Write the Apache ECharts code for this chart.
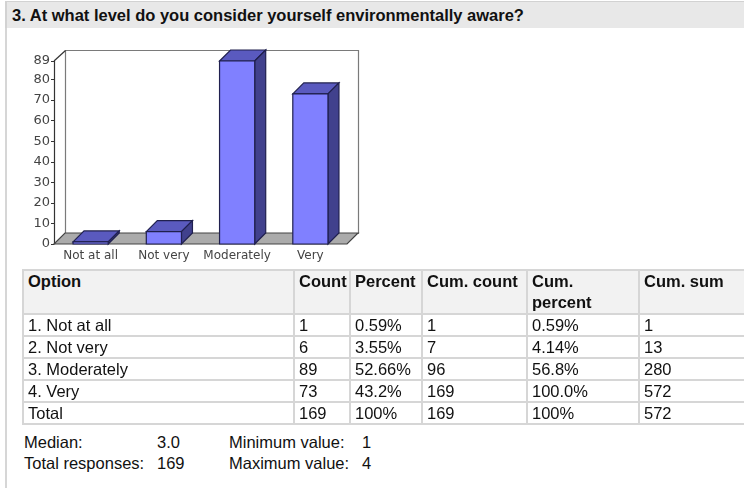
<!DOCTYPE html>
<html>
<head>
<meta charset="utf-8">
<title>Environmental awareness</title>
<script src="https://cdn.jsdelivr.net/npm/echarts@6/dist/echarts.min.js"></script>
<style>
body {
  margin: 0;
  width: 744px;
  height: 488px;
  overflow: hidden;
  background: #fff;
  position: relative;
  font-family: "Liberation Sans", Arial, sans-serif;
  color: #111;
}
.head {
  position: absolute;
  left: 5px;
  top: 1px;
  width: 739px;
  height: 27px;
  box-sizing: border-box;
  background: #e8e8e8;
  border-top: 1px solid #d2d2d2;
  border-left: 2px solid #d2d2d2;
  padding-left: 5px;
  font-weight: bold;
  font-size: 16.5px;
  line-height: 26px;
}
.side {
  position: absolute;
  left: 5px;
  top: 28px;
  width: 2px;
  height: 460px;
  background: #d6d6d6;
}
#chart {
  position: absolute;
  left: 0;
  top: 30px;
  width: 380px;
  height: 240px;
}
table {
  position: absolute;
  left: 22px;
  top: 269px;
  border-collapse: collapse;
  table-layout: fixed;
  font-size: 16.5px;
}
td, th {
  border: 2px solid #d6d6d6;
  padding: 0 4px;
  height: 20px;
  line-height: 20px;
  text-align: left;
  overflow: hidden;
  white-space: nowrap;
}
th {
  background: #f2f2f2;
  font-weight: bold;
  height: 42px;
  line-height: 21px;
  vertical-align: top;
  white-space: normal;
}
.foot {
  position: absolute;
  font-size: 16.5px;
  line-height: 20px;
  white-space: nowrap;
}
</style>
</head>
<body>
<div class="head" id="title"></div>
<div class="side"></div>
<div id="chart"></div>
<table id="tbl"></table>
<div id="foot"></div>

<script>
const title = '3. At what level do you consider yourself environmentally aware?'
const categories = ['Not at all', 'Not very', 'Moderately', 'Very']
const counts = [1, 6, 89, 73]
const yTicks = [0, 10, 20, 30, 40, 50, 60, 70, 80, 89]

// table columns
const headers = ['Option', 'Count', 'Percent', 'Cum. count', 'Cum. percent', 'Cum. sum']
const colWidths = [271, 56, 72, 105, 112, 130]
const optionCol = ['1. Not at all', '2. Not very', '3. Moderately', '4. Very', 'Total']
const countCol = ['1', '6', '89', '73', '169']
const percentCol = ['0.59%', '3.55%', '52.66%', '43.2%', '100%']
const cumCountCol = ['1', '7', '96', '169', '169']
const cumPercentCol = ['0.59%', '4.14%', '56.8%', '100.0%', '100%']
const cumSumCol = ['1', '13', '280', '572', '572']

// summary below the table
const statLabels = ['Median:', 'Total responses:', 'Minimum value:', 'Maximum value:']
const statValues = ['3.0', '169', '1', '4']

document.getElementById('title').textContent = title

// build the table
const tbl = document.getElementById('tbl')
tbl.style.width = colWidths.reduce((a, b) => a + b, 0) + 'px'
let html = '<colgroup>' + colWidths.map(w => '<col style="width:' + w + 'px">').join('') + '</colgroup>'
html += '<tr>' + headers.map(h => '<th>' + h + '</th>').join('') + '</tr>'
for (let i = 0; i < optionCol.length; i++) {
  html += '<tr><td>' + [optionCol[i], countCol[i], percentCol[i], cumCountCol[i], cumPercentCol[i], cumSumCol[i]].join('</td><td>') + '</td></tr>'
}
tbl.innerHTML = html

// summary lines
const footPos = [[24, 432], [24, 453], [229, 432], [229, 453]]
const footValX = [157, 157, 362, 362]
const foot = document.getElementById('foot')
statLabels.forEach((t, i) => {
  foot.innerHTML += '<div class="foot" style="left:' + footPos[i][0] + 'px;top:' + footPos[i][1] + 'px">' + t + '</div>'
  foot.innerHTML += '<div class="foot" style="left:' + footValX[i] + 'px;top:' + footPos[i][1] + 'px">' + statValues[i] + '</div>'
})

// 3d look
const D = 11
const edge = '#20204f'

function renderFrame (params, api) {
  const cs = params.coordSys
  const x = cs.x
  const y = cs.y
  const w = cs.width
  const b = cs.y + cs.height
  return {
    type: 'group',
    children: [
      {
        type: 'rect',
        shape: { x: x + D + 0.5, y: y - D + 0.5, width: w, height: cs.height },
        style: { fill: '#fff', stroke: '#7a7a7a', lineWidth: 1.2 }
      },
      {
        type: 'line',
        shape: { x1: x, y1: y, x2: x + D + 0.5, y2: y - D + 0.5 },
        style: { stroke: '#333', lineWidth: 1.2 }
      },
      {
        type: 'polygon',
        shape: { points: [[x, b], [x + D, b - D], [x + w + D, b - D], [x + w, b]] },
        style: { fill: '#ababab', stroke: '#444', lineWidth: 1.2 }
      }
    ]
  }
}

function renderBar (params, api) {
  const top = api.coord([api.value(0), api.value(1)])
  const base = api.coord([api.value(0), 0])
  const bw = api.size([1, 0])[0] * 0.48
  const x0 = top[0] - bw / 2
  const x1 = top[0] + bw / 2
  const yt = top[1]
  const yb = base[1]
  const line = { stroke: edge, lineWidth: 1.2 }
  return {
    type: 'group',
    children: [
      {
        type: 'polygon',
        shape: { points: [[x0, yt], [x0 + D, yt - D], [x1 + D, yt - D], [x1, yt]] },
        style: Object.assign({ fill: '#5a5abf' }, line)
      },
      {
        type: 'polygon',
        shape: { points: [[x1, yt], [x1 + D, yt - D], [x1 + D, yb - D], [x1, yb]] },
        style: Object.assign({ fill: '#41418d' }, line)
      },
      {
        type: 'rect',
        shape: { x: x0, y: yt, width: bw, height: yb - yt },
        style: Object.assign({ fill: '#8080ff' }, line)
      }
    ]
  }
}

const option = {
  animation: false,
  grid: { left: 54, top: 31, width: 293, height: 183 },
  xAxis: {
    type: 'category',
    data: categories,
    axisLine: { show: false },
    axisTick: { show: false },
    axisLabel: { margin: 6, color: '#444', fontFamily: 'DejaVu Sans', fontSize: 12, interval: 0 }
  },
  yAxis: {
    type: 'value',
    min: 0,
    max: 89,
    splitLine: { show: false },
    axisLine: { show: true, lineStyle: { color: '#333', width: 1.2 } },
    axisTick: { show: true, length: 3, customValues: yTicks, lineStyle: { color: '#333' } },
    axisLabel: { margin: 4, color: '#444', fontFamily: 'DejaVu Sans', fontSize: 13, customValues: yTicks }
  },
  series: [
    {
      type: 'custom',
      name: 'frame',
      renderItem: renderFrame,
      data: [[0, 0]],
      z: 1,
      silent: true
    },
    {
      type: 'custom',
      name: 'Count',
      renderItem: renderBar,
      data: counts.map((c, i) => [i, c]),
      z: 2
    }
  ]
}

const myChart = echarts.init(document.getElementById('chart'))
myChart.setOption(option)
</script>
</body>
</html>
